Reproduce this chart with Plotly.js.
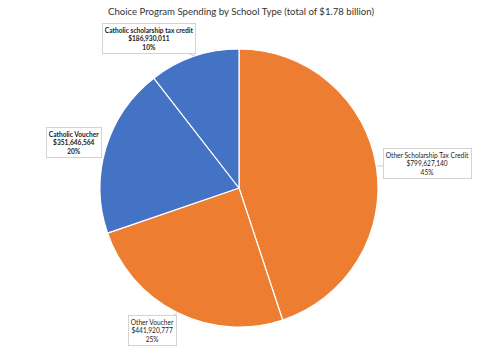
<!DOCTYPE html>
<html><head><meta charset="utf-8">
<script src="https://cdn.plot.ly/plotly-3.0.1.min.js"></script>
<style>html,body{margin:0;padding:0;background:#fff;}#chart{width:485px;height:360px;}</style>
</head><body><div id="chart"></div>
<script>
const categories = ["Other Scholarship Tax Credit", "Other Voucher", "Catholic Voucher", "Catholic scholarship tax credit"];
const amounts = [799627140, 441920777, 351646564, 186930011];
const percentLabels = ["45%", "25%", "20%", "10%"];
const sliceColors = ["#ED7D31", "#ED7D31", "#4472C4", "#4472C4"];
const boldLabel = [false, false, true, true];

const W = 485, H = 360;
const px = x => x / W, py = y => 1 - y / H;
// arrow tips (pixel) and box offsets for callouts
const tips = [[377,166],[177,313],[102,146],[195,56]];
const offs = [[50,-2.5],[-24.5,17.5],[-28,-3.5],[-46.5,-17.5]];

function fmt(v){ return "$" + v.toLocaleString("en-US"); }

const annotations = categories.map((c, i) => {
  let t = c + "<br>" + fmt(amounts[i]) + "<br>" + percentLabels[i];
  if (boldLabel[i]) t = "<b>" + t + "</b>";
  return {
    xref: "paper", yref: "paper", x: px(tips[i][0]), y: py(tips[i][1]),
    axref: "pixel", ayref: "pixel", ax: offs[i][0], ay: offs[i][1],
    text: t, showarrow: true, arrowhead: 0, arrowwidth: 0.8, arrowcolor: "#bfbfbf",
    standoff: 0, startstandoff: 0,
    bgcolor: "#ffffff", bordercolor: "#c8c8c8", borderwidth: 0.8, borderpad: 2,
    font: {family: "Lato, 'Open Sans', sans-serif", size: 6.6, color: "#222"},
    align: "center"
  };
});

const data = [{
  type: "pie", labels: categories, values: amounts, sort: false,
  direction: "clockwise", rotation: 0,
  marker: {colors: sliceColors, line: {color: "#ffffff", width: 1.2}},
  textinfo: "none", hoverinfo: "label+value+percent",
  domain: {x: [px(100), px(378)], y: [py(327), py(49)]},
  showlegend: false
}];

const layout = {
  width: W, height: H, margin: {l: 0, r: 0, t: 0, b: 0},
  paper_bgcolor: "#ffffff",
  title: {text: "Choice Program Spending by School Type (total of $1.78 billion)",
    x: 0.497, xanchor: "center", y: 1 - 12/H, yanchor: "middle",
    font: {family: "Lato, 'Open Sans', sans-serif", size: 9.6, color: "#333"}},
  annotations: annotations,
  showlegend: false
};
Plotly.newPlot("chart", data, layout, {displayModeBar: false, staticPlot: true});
</script></body></html>
